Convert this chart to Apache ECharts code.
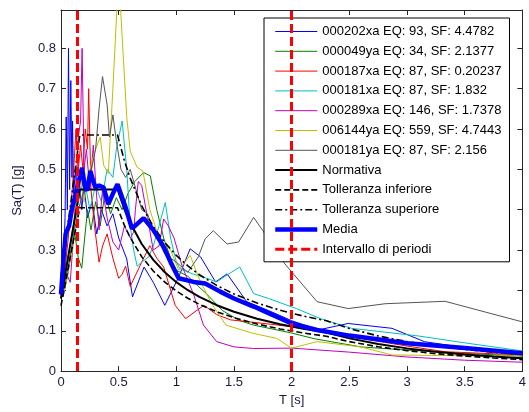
<!DOCTYPE html>
<html>
<head>
<meta charset="utf-8">
<script src="https://cdn.jsdelivr.net/npm/echarts@6/dist/echarts.min.js"></script>
<style>
html,body{margin:0;padding:0;background:#fff;}
#c{width:529px;height:412px;}
</style>
</head>
<body>
<div id="c"></div>
<script>
// ---------- data ----------
const seriesNames = [
  '000202xa EQ: 93, SF: 4.4782',
  '000049ya EQ: 34, SF: 2.1377',
  '000187xa EQ: 87, SF: 0.20237',
  '000181xa EQ: 87, SF: 1.832',
  '000289xa EQ: 146, SF: 1.7378',
  '006144ya EQ: 559, SF: 4.7443',
  '000181ya EQ: 87, SF: 2.156'
];
const rec000202xa = [[0,0.18],[0.02,0.25],[0.035,0.38],[0.045,0.63],[0.055,0.4],[0.065,0.80],[0.075,0.45],[0.085,0.72],[0.095,0.48],[0.1,0.62],[0.11,0.44],[0.125,0.5],[0.14,0.42],[0.16,0.47],[0.18,0.4],[0.2,0.46],[0.23,0.38],[0.27,0.42],[0.31,0.34],[0.35,0.40],[0.4,0.36],[0.45,0.39],[0.5,0.33],[0.57,0.278],[0.62,0.184],[0.72,0.258],[0.8,0.22],[0.9,0.163],[1.02,0.233],[1.12,0.303],[1.21,0.283],[1.34,0.221],[1.44,0.241],[1.61,0.172],[1.8,0.15],[2.0,0.125],[2.23,0.102],[2.49,0.118],[2.87,0.106],[3.15,0.073],[3.5,0.058],[4.0,0.045]];
const rec000049ya = [[0,0.19],[0.03,0.2],[0.06,0.24],[0.09,0.3],[0.12,0.34],[0.15,0.28],[0.18,0.255],[0.2,0.315],[0.23,0.4],[0.26,0.35],[0.3,0.42],[0.34,0.36],[0.38,0.44],[0.43,0.39],[0.48,0.43],[0.53,0.4],[0.58,0.44],[0.64,0.47],[0.716,0.492],[0.774,0.484],[0.83,0.40],[0.89,0.33],[0.95,0.28],[1.0,0.25],[1.1,0.235],[1.18,0.213],[1.26,0.192],[1.4,0.15],[1.55,0.125],[1.67,0.114],[1.99,0.095],[2.2,0.08],[2.6,0.06],[3.0,0.052],[3.5,0.044],[4.0,0.037]];
const rec000187xa = [[0,0.19],[0.03,0.24],[0.06,0.32],[0.09,0.42],[0.11,0.5],[0.13,0.6],[0.15,0.5],[0.17,0.56],[0.19,0.5],[0.21,0.6],[0.23,0.55],[0.24,0.70],[0.26,0.45],[0.29,0.36],[0.33,0.27],[0.36,0.31],[0.4,0.34],[0.45,0.28],[0.5,0.23],[0.53,0.24],[0.56,0.26],[0.6,0.21],[0.7,0.27],[0.77,0.311],[0.83,0.28],[0.89,0.258],[0.99,0.163],[1.08,0.13],[1.18,0.151],[1.24,0.163],[1.35,0.14],[1.47,0.127],[1.7,0.12],[2.0,0.11],[2.52,0.085],[3.0,0.062],[3.33,0.048],[4.0,0.04]];
const rec000181xa = [[0,0.19],[0.05,0.26],[0.1,0.35],[0.15,0.42],[0.2,0.48],[0.25,0.40],[0.3,0.46],[0.35,0.42],[0.4,0.5],[0.45,0.48],[0.48,0.55],[0.53,0.62],[0.57,0.5],[0.6,0.36],[0.63,0.30],[0.66,0.26],[0.7,0.27],[0.76,0.283],[0.8,0.31],[0.85,0.36],[0.904,0.418],[0.95,0.33],[1.0,0.27],[1.03,0.254],[1.15,0.24],[1.235,0.233],[1.35,0.221],[1.45,0.24],[1.55,0.258],[1.67,0.192],[1.8,0.18],[2.04,0.155],[2.25,0.13],[2.52,0.106],[3.1,0.087],[3.5,0.07],[4.0,0.05]];
const rec000289xa = [[0,0.19],[0.02,0.185],[0.05,0.24],[0.08,0.22],[0.1,0.3],[0.13,0.45],[0.15,0.58],[0.17,0.62],[0.183,0.80],[0.2,0.5],[0.22,0.55],[0.25,0.45],[0.28,0.56],[0.3,0.47],[0.33,0.35],[0.36,0.45],[0.4,0.38],[0.45,0.32],[0.5,0.3],[0.55,0.36],[0.6,0.33],[0.63,0.344],[0.645,0.40],[0.67,0.47],[0.7,0.46],[0.75,0.38],[0.8,0.30],[0.85,0.31],[0.89,0.377],[0.93,0.36],[0.98,0.33],[1.05,0.26],[1.15,0.19],[1.235,0.114],[1.35,0.073],[1.5,0.06],[1.67,0.056],[2.0,0.057],[2.5,0.047],[3.0,0.035],[3.5,0.027],[4.0,0.022]];
const rec006144ya = [[0,0.19],[0.03,0.2],[0.07,0.26],[0.1,0.3],[0.13,0.42],[0.16,0.5],[0.2,0.42],[0.25,0.5],[0.3,0.55],[0.34,0.58],[0.37,0.51],[0.41,0.49],[0.45,0.7],[0.49,0.93],[0.51,0.93],[0.57,0.63],[0.6,0.545],[0.66,0.505],[0.71,0.496],[0.77,0.40],[0.85,0.33],[0.95,0.3],[1.02,0.25],[1.12,0.287],[1.19,0.234],[1.3,0.17],[1.43,0.114],[1.66,0.094],[1.87,0.081],[2.0,0.057],[2.22,0.073],[2.6,0.06],[2.87,0.04],[3.5,0.038],[4.0,0.038]];
const rec000181ya = [[0,0.19],[0.05,0.24],[0.1,0.32],[0.15,0.4],[0.2,0.45],[0.25,0.48],[0.3,0.55],[0.33,0.65],[0.36,0.73],[0.4,0.66],[0.42,0.58],[0.45,0.635],[0.48,0.57],[0.52,0.5],[0.56,0.48],[0.6,0.50],[0.65,0.45],[0.7,0.40],[0.75,0.39],[0.8,0.35],[0.85,0.32],[0.9,0.29],[1.0,0.27],[1.1,0.245],[1.19,0.283],[1.25,0.328],[1.32,0.348],[1.44,0.315],[1.54,0.32],[1.67,0.381],[1.75,0.348],[1.94,0.266],[2.22,0.172],[2.49,0.155],[2.81,0.167],[3.33,0.173],[3.67,0.147],[4.0,0.122]];

const codePeriods = [0,0.163,0.49,0.55,0.6,0.7,0.8,0.9,1.0,1.1,1.2,1.35,1.5,1.7,1.9,2.1,2.3,2.5,2.75,3.0,3.25,3.5,3.75,4.0];
const normativa = [0.18,0.45,0.45,0.401,0.3675,0.315,0.2756,0.245,0.2205,0.2005,0.1838,0.1633,0.147,0.1297,0.116,0.105,0.0959,0.0811,0.067,0.0563,0.048,0.0414,0.0361,0.0317];
const tolInferiore = [0.162,0.405,0.405,0.361,0.331,0.2835,0.248,0.2205,0.1985,0.1805,0.1654,0.147,0.1323,0.1167,0.1044,0.0945,0.0863,0.073,0.0603,0.0507,0.0432,0.0373,0.0325,0.0285];
const tolSuperiore = [0.234,0.585,0.585,0.521,0.478,0.4095,0.358,0.3185,0.2867,0.2607,0.2389,0.2123,0.1911,0.1686,0.1508,0.1365,0.1247,0.1054,0.0871,0.0732,0.0624,0.0538,0.0469,0.0412];

const mediaPeriods = [0,0.02,0.04,0.07,0.097,0.12,0.154,0.183,0.205,0.227,0.255,0.28,0.298,0.33,0.37,0.41,0.45,0.49,0.53,0.56,0.615,0.716,0.8,0.89,0.95,1.02,1.15,1.25,1.38,1.5,1.67,1.79,2.0,2.22,2.5,3.0,3.5,4.0];
const media = [0.19,0.27,0.34,0.36,0.405,0.43,0.471,0.504,0.46,0.447,0.496,0.47,0.455,0.46,0.455,0.414,0.44,0.463,0.43,0.406,0.353,0.379,0.35,0.308,0.27,0.23,0.221,0.217,0.197,0.18,0.16,0.145,0.118,0.102,0.088,0.069,0.057,0.044];

const periodInterval = [0.14, 2.0];
const xTicks = {min: 0, max: 4, interval: 0.5};
const yTicks = {min: 0, max: 0.895, interval: 0.1};

// ---------- chart ----------
const FONT = 'Arial, "Liberation Sans", sans-serif';
const recColors = ['#0000ff','#008000','#ff0000','#00bfbf','#bf00bf','#bfbf00','#555555'];
const recData = [rec000202xa, rec000049ya, rec000187xa, rec000181xa, rec000289xa, rec006144ya, rec000181ya];
const zip = (xs, ys) => xs.map((x, i) => [x, ys[i]]);

const series = recData.map((d, i) => ({
  name: seriesNames[i], type: 'line', data: d, symbol: 'none',
  lineStyle: {color: recColors[i], width: 1}, itemStyle: {color: recColors[i]},
  animation: false, silent: true, z: 2
}));
series.push({name: 'Normativa', type: 'line', data: zip(codePeriods, normativa), symbol: 'none',
  lineStyle: {color: '#000', width: 2}, itemStyle: {color: '#000'}, animation: false, z: 3});
series.push({name: 'Tolleranza inferiore', type: 'line', data: zip(codePeriods, tolInferiore), symbol: 'none',
  lineStyle: {color: '#000', width: 1.6, type: [6, 3]}, itemStyle: {color: '#000'}, animation: false, z: 3});
series.push({name: 'Tolleranza superiore', type: 'line', data: zip(codePeriods, tolSuperiore), symbol: 'none',
  lineStyle: {color: '#000', width: 1.6, type: [7, 3, 2, 3]}, itemStyle: {color: '#000'}, animation: false, z: 3});
series.push({name: 'Media', type: 'line', data: zip(mediaPeriods, media), symbol: 'none',
  lineStyle: {color: '#0000ff', width: 4.5}, itemStyle: {color: '#0000ff'}, animation: false, z: 4});
series.push({name: 'Intervallo di periodi', type: 'line', data: [], symbol: 'none',
  lineStyle: {color: '#ff0000', width: 3, type: [9, 4]}, itemStyle: {color: '#ff0000'}, animation: false, z: 5,
  markLine: {symbol: 'none', silent: true, animation: false, label: {show: false},
    lineStyle: {color: '#ff0000', width: 3, type: [9, 4]},
    data: periodInterval.map(v => ({xAxis: v}))}});

const axisCol = '#262626';
const chart = echarts.init(document.getElementById('c'), null, {renderer: 'canvas'});
chart.setOption({
  backgroundColor: '#fff',
  animation: false,
  grid: {left: 61, right: 6, top: 10, bottom: 39, containLabel: false},
  legend: {
    orient: 'vertical', left: 264, top: 18,
    itemWidth: 42, itemHeight: 14, itemGap: 6.8,
    padding: [7, 8, 6, 9],
    borderColor: '#000', borderWidth: 1, borderRadius: 0, backgroundColor: '#fff',
    itemStyle: {opacity: 0},
    lineStyle: {width: 'inherit'},
    textStyle: {fontSize: 13, color: '#000', fontFamily: FONT},
    data: seriesNames.concat(['Normativa','Tolleranza inferiore','Tolleranza superiore','Media','Intervallo di periodi']),
    selectedMode: false
  },
  xAxis: [{
    type: 'value', min: xTicks.min, max: xTicks.max, interval: xTicks.interval,
    name: 'T [s]', nameLocation: 'middle', nameGap: 20,
    nameTextStyle: {fontSize: 13, color: '#1a1a40', fontFamily: FONT},
    axisLine: {onZero: false, lineStyle: {color: axisCol, width: 1}},
    axisTick: {inside: true, length: 5, lineStyle: {color: axisCol}},
    axisLabel: {fontSize: 13, color: '#1a1a40', fontFamily: FONT, margin: 5},
    splitLine: {show: false}
  }, {
    type: 'value', position: 'top', min: xTicks.min, max: xTicks.max, interval: xTicks.interval,
    axisLine: {onZero: false, lineStyle: {color: axisCol, width: 1}},
    axisTick: {inside: true, length: 5, lineStyle: {color: axisCol}},
    axisLabel: {show: false}, splitLine: {show: false}
  }],
  yAxis: [{
    type: 'value', min: yTicks.min, max: yTicks.max, interval: yTicks.interval,
    name: 'Sa(T) [g]', nameLocation: 'middle', nameGap: 37, nameRotate: 90,
    nameTextStyle: {fontSize: 13, color: '#1a1a40', fontFamily: FONT},
    axisLine: {onZero: false, lineStyle: {color: axisCol, width: 1}},
    axisTick: {inside: true, length: 5, lineStyle: {color: axisCol}},
    axisLabel: {fontSize: 13, color: '#1a1a40', fontFamily: FONT, margin: 5,
      formatter: v => v > 0.85 ? '' : String(parseFloat(v.toFixed(1)))},
    splitLine: {show: false}
  }, {
    type: 'value', position: 'right', min: yTicks.min, max: yTicks.max, interval: yTicks.interval,
    axisLine: {onZero: false, lineStyle: {color: axisCol, width: 1}},
    axisTick: {inside: true, length: 5, lineStyle: {color: axisCol}},
    axisLabel: {show: false}, splitLine: {show: false}
  }],
  series: series
});
</script>
</body>
</html>
